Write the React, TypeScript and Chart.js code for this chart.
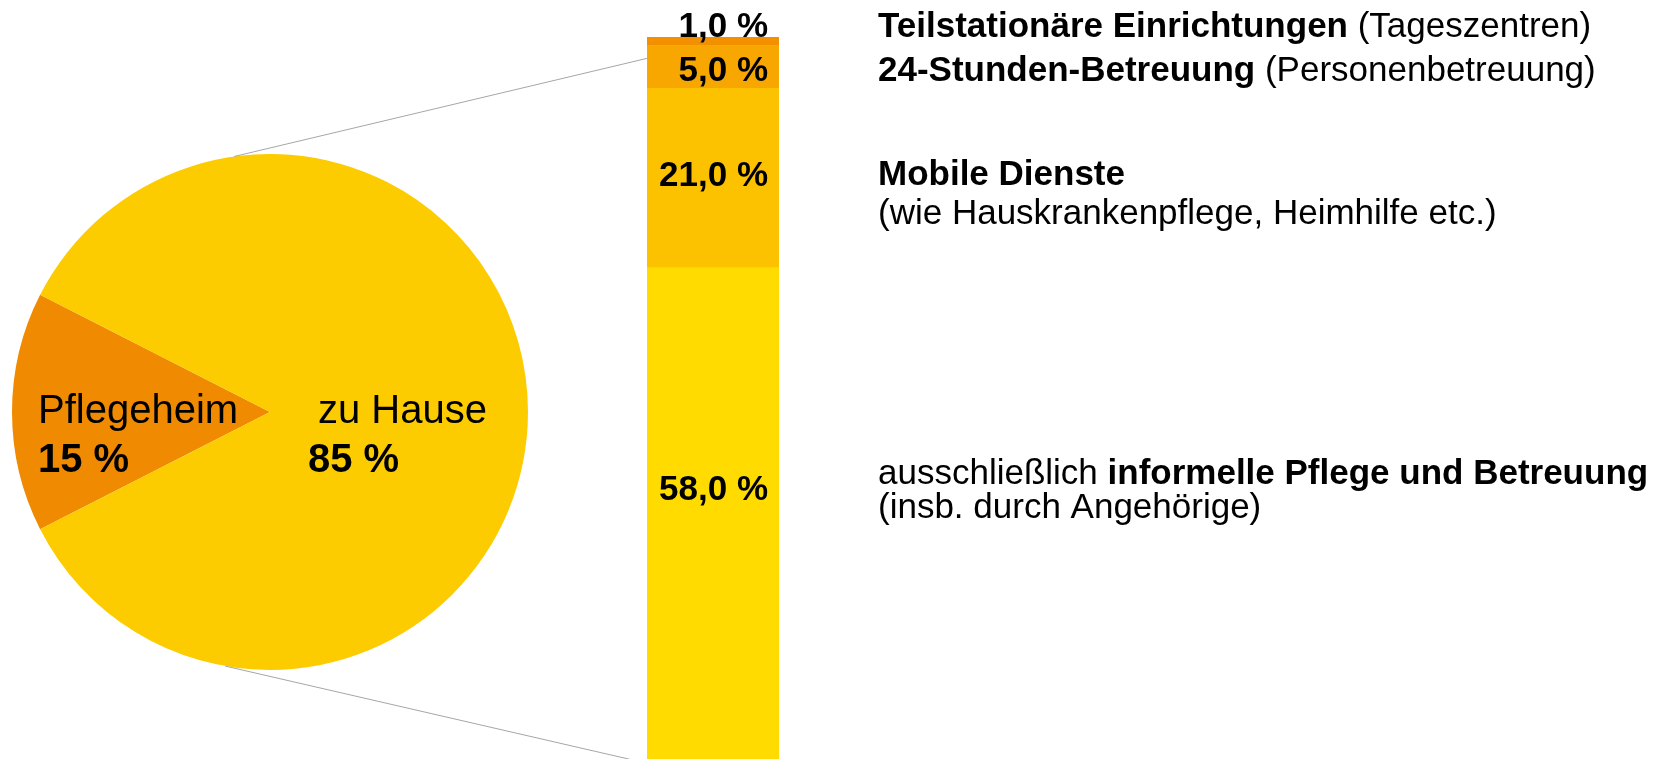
import React, { useEffect, useRef } from 'react';
import { Chart, registerables } from 'chart.js';

Chart.register(...registerables);

const FONT = "'Liberation Sans', Arial, Helvetica, sans-serif";

// ---- Data ----
const pieLabels = ['Pflegeheim', 'zu Hause'];
const pieValues = [15, 85];
const pieColors = ['#F08A00', '#FDCC00'];

// "zu Hause" breakdown, listed from top of the bar to the bottom
const careTypes = [
  'Teilstationäre Einrichtungen',
  '24-Stunden-Betreuung',
  'Mobile Dienste',
  'informelle Pflege und Betreuung',
];
const careShares = [1.0, 5.0, 21.0, 58.0];
const carePrefixes = ['', '', '', 'ausschließlich '];
const careNotes = [
  '(Tageszentren)',
  '(Personenbetreuung)',
  '(wie Hauskrankenpflege, Heimhilfe etc.)',
  '(insb. durch Angehörige)',
];
const careNoteOnNewLine = [false, false, true, true];
const careColors = ['#F29000', '#F7A700', '#FCC200', '#FFDB00'];

// ---- Layout (styling only) ----
const PIE_BOX = { left: 12, top: 154, size: 516 };
const BAR_LEFT = 647;
const BAR_RIGHT = 779;
const BAR_TOP = 37;
const W = 1653;
const H = 759;

const fmt = (v: number) => v.toFixed(1).replace('.', ',') + ' %';

const pieLabelPlugin = {
  id: 'pieLabels',
  afterDatasetsDraw(chart: any) {
    const ctx = chart.ctx;
    const arc = chart.getDatasetMeta(0).data[0];
    const cx = arc.x;
    const cy = arc.y;
    const nameDx = [-232, 48];
    const valueDx = [-232, 38];
    ctx.save();
    ctx.fillStyle = '#000';
    ctx.textAlign = 'left';
    ctx.textBaseline = 'alphabetic';
    pieLabels.forEach((l, i) => {
      ctx.font = `40px ${FONT}`;
      ctx.fillText(l, cx + nameDx[i], cy + 11);
      ctx.font = `bold 40px ${FONT}`;
      ctx.fillText(`${pieValues[i]} %`, cx + valueDx[i], cy + 60);
    });
    ctx.restore();
  },
};

export default function App() {
  const pieRef = useRef<HTMLCanvasElement>(null);
  const barRef = useRef<HTMLCanvasElement>(null);

  useEffect(() => {
    Chart.defaults.font.family = FONT;

    const pie = new Chart(pieRef.current as HTMLCanvasElement, {
      type: 'pie',
      data: {
        labels: pieLabels,
        datasets: [
          {
            data: pieValues,
            backgroundColor: pieColors,
            borderWidth: 0,
            hoverOffset: 0,
          },
        ],
      },
      options: {
        responsive: false,
        maintainAspectRatio: false,
        animation: false,
        rotation: 243,
        layout: { padding: 0 },
        plugins: { legend: { display: false }, tooltip: { enabled: false } },
      },
      plugins: [pieLabelPlugin],
    } as any);

    const barPlugin = {
      id: 'barDecor',
      beforeDatasetsDraw(chart: any) {
        const ctx = chart.ctx;
        const y = chart.scales.y;
        const arc: any = pie.getDatasetMeta(0).data[0];
        const cx = arc.x + PIE_BOX.left;
        const cy = arc.y + PIE_BOX.top;
        const r = arc.outerRadius;
        const a1 = (-98 * Math.PI) / 180;
        const a2 = (100 * Math.PI) / 180;
        ctx.save();
        ctx.strokeStyle = '#A6A6A6';
        ctx.lineWidth = 1;
        ctx.beginPath();
        ctx.moveTo(cx + r * Math.cos(a1), cy + r * Math.sin(a1));
        ctx.lineTo(chart.chartArea.left, y.getPixelForValue(82.5));
        ctx.moveTo(cx + r * Math.cos(a2), cy + r * Math.sin(a2));
        ctx.lineTo(chart.chartArea.left, y.getPixelForValue(0));
        ctx.stroke();
        ctx.restore();
      },
      afterDatasetsDraw(chart: any) {
        const ctx = chart.ctx;
        const n = careShares.length;
        const labelOffsets = [-16, 2, -4, -27];
        ctx.save();
        ctx.fillStyle = '#000';
        ctx.textBaseline = 'alphabetic';
        // value labels on the bar
        ctx.font = `bold 35px ${FONT}`;
        ctx.textAlign = 'right';
        careShares.forEach((v, i) => {
          const dsIndex = n - 1 - i;
          const el = chart.getDatasetMeta(dsIndex).data[0];
          const center = (el.y + el.base) / 2;
          ctx.fillText(fmt(v), chart.chartArea.right - 11, center + 12 + labelOffsets[i]);
        });
        // descriptions
        ctx.textAlign = 'left';
        const x0 = 878;
        const baselines = [37, 81, 185, 484];
        const lineGaps = [0, 0, 39, 34];
        careTypes.forEach((t, i) => {
          let x = x0;
          const b = baselines[i];
          if (carePrefixes[i]) {
            ctx.font = `35px ${FONT}`;
            ctx.fillText(carePrefixes[i], x, b);
            x += ctx.measureText(carePrefixes[i]).width;
          }
          ctx.font = `bold 35px ${FONT}`;
          ctx.fillText(t, x, b);
          x += ctx.measureText(t).width;
          ctx.font = `35px ${FONT}`;
          if (careNoteOnNewLine[i]) {
            ctx.fillText(careNotes[i], x0, b + lineGaps[i]);
          } else {
            ctx.fillText(' ' + careNotes[i], x, b);
          }
        });
        ctx.restore();
      },
    };

    const datasets = careShares
      .map((v, i) => ({
        label: careTypes[i],
        data: [v],
        backgroundColor: careColors[i],
        borderWidth: 0,
        barPercentage: 1,
        categoryPercentage: 1,
      }))
      .reverse();

    const bar = new Chart(barRef.current as HTMLCanvasElement, {
      type: 'bar',
      data: { labels: ['zu Hause'], datasets },
      options: {
        responsive: false,
        maintainAspectRatio: false,
        animation: false,
        layout: {
          padding: { left: BAR_LEFT, right: W - BAR_RIGHT, top: BAR_TOP, bottom: 0 },
        },
        scales: {
          x: { stacked: true, display: false },
          y: { stacked: true, display: false, min: 0.5, max: 85 },
        },
        plugins: { legend: { display: false }, tooltip: { enabled: false } },
      },
      plugins: [barPlugin],
    } as any);

    return () => {
      bar.destroy();
      pie.destroy();
    };
  }, []);

  return (
    <div
      style={{
        position: 'fixed',
        left: 0,
        top: 0,
        width: W,
        height: H,
        background: '#fff',
        overflow: 'hidden',
      }}
    >
      <canvas
        ref={pieRef}
        width={PIE_BOX.size}
        height={PIE_BOX.size}
        style={{ position: 'absolute', left: PIE_BOX.left, top: PIE_BOX.top }}
      />
      <canvas
        ref={barRef}
        width={W}
        height={H}
        style={{ position: 'absolute', left: 0, top: 0 }}
      />
    </div>
  );
}
